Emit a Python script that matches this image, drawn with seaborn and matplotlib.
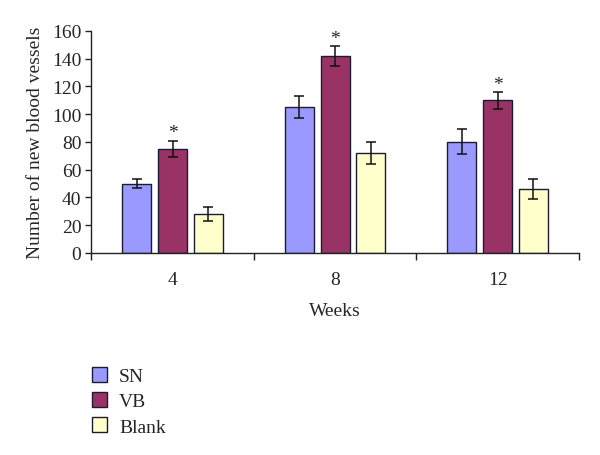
import matplotlib
matplotlib.use("Agg")
import matplotlib.pyplot as plt
import seaborn as sns
import pandas as pd

weeks = ["4", "8", "12"]
groups = ["SN", "VB", "Blank"]
sn_vals = [50, 105, 80]
vb_vals = [75, 142, 110]
blank_vals = [28, 72, 46]
sn_err = [3, 8, 9]
vb_err = [6, 7, 6]
blank_err = [5, 8, 7]
significant = {"VB": [True, True, True]}
colors = ["#9999FF", "#993366", "#FFFFCC"]

sns.set_style("ticks")
plt.rcParams["font.family"] = ["Liberation Serif", "DejaVu Serif"]

rows = []
for g, vals, errs in zip(groups, [sn_vals, vb_vals, blank_vals], [sn_err, vb_err, blank_err]):
    for w, v, e in zip(weeks, vals, errs):
        rows.append({"Weeks": w, "value": v, "err": e, "group": g})
df = pd.DataFrame(rows)

fig = plt.figure(figsize=(6, 4.56), dpi=100)
ax = fig.add_axes([0.152, 0.443, 0.813, 0.487])

sns.barplot(data=df, x="Weeks", y="value", hue="group", order=weeks, hue_order=groups,
            palette=colors, width=0.66, gap=0.19, errorbar=None, edgecolor="#1a1a33",
            linewidth=1.0, saturation=1, ax=ax)

# error bars and asterisks from bar patches
bars = [p for p in ax.patches if p.get_height() > 0]
i = 0
for g in groups:
    sub = df[df["group"] == g]
    for j, (_, r) in enumerate(sub.iterrows()):
        p = bars[i]; i += 1
        xc = p.get_x() + p.get_width() / 2
        ax.errorbar(xc, r["value"], yerr=r["err"], color="#111111", capsize=3.5,
                    elinewidth=1.1, capthick=1.1, fmt="none")
        if g in significant and significant[g][j]:
            ax.text(xc, r["value"] + r["err"] - 0.5, "*", ha="center", va="bottom",
                    fontsize=14, color="#222222")

ax.set_ylim(0, 160)
ax.set_xlim(-0.5, 2.5)
ax.set_yticks(range(0, 161, 20))
ax.set_ylabel("Number of new blood vessels", fontsize=14, labelpad=6)
ax.set_xlabel("Weeks", fontsize=14, labelpad=10)
ax.tick_params(axis="y", labelsize=14, length=4, width=1, color="#222222", pad=3)
ax.tick_params(axis="x", which="major", length=0, labelsize=14, pad=13)
ax.set_xticks([-0.5, 0.5, 1.5, 2.5], minor=True)
ax.tick_params(axis="x", which="minor", length=5, width=1, color="#222222")
sns.despine(ax=ax)
for s in ["left", "bottom"]:
    ax.spines[s].set_color("#222222")
    ax.spines[s].set_linewidth(1)

sns.move_legend(ax, "upper left", bbox_to_anchor=(0.14, 0.21), bbox_transform=fig.transFigure,
                frameon=False, title=None, fontsize=14, handlelength=0.8, handleheight=0.8,
                handletextpad=0.6, labelspacing=0.36, borderaxespad=0)

fig.savefig("out.png", dpi=100)
